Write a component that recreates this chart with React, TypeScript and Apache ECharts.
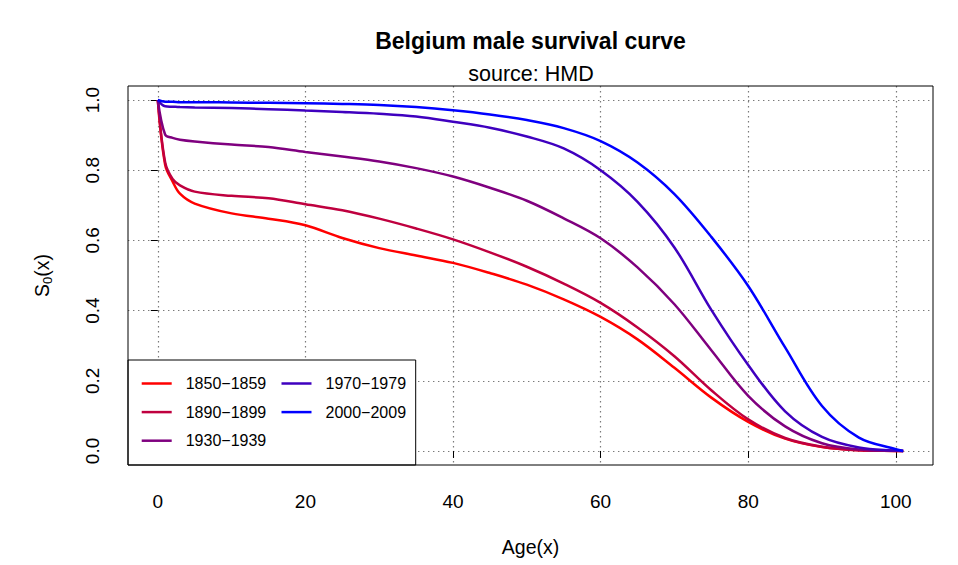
import React, { useEffect, useRef } from "react";
import * as echarts from "echarts";

// ages (years) at which the survival curves were read
const ages = [0, 1, 2, 3, 5, 10, 15, 20, 25, 30, 35, 40, 45, 50, 55, 60, 65, 70, 75, 80, 85, 90, 95, 100, 101];

const s1850 = [1, 0.815, 0.768, 0.733, 0.705, 0.677, 0.662, 0.643, 0.607, 0.578, 0.557, 0.536, 0.507, 0.474, 0.432, 0.382, 0.318, 0.237, 0.152, 0.083, 0.035, 0.011, 0.002, 0.0002, 0];
const s1890 = [1, 0.822, 0.775, 0.757, 0.739, 0.727, 0.72, 0.703, 0.686, 0.662, 0.634, 0.603, 0.566, 0.525, 0.477, 0.422, 0.352, 0.27, 0.173, 0.09, 0.037, 0.012, 0.002, 0.0002, 0];
const s1930 = [1, 0.901, 0.892, 0.887, 0.882, 0.873, 0.866, 0.852, 0.839, 0.825, 0.806, 0.782, 0.75, 0.713, 0.663, 0.606, 0.523, 0.418, 0.287, 0.157, 0.07, 0.022, 0.004, 0.0005, 0];
const s1970 = [1, 0.982, 0.981, 0.98, 0.979, 0.977, 0.974, 0.97, 0.966, 0.961, 0.953, 0.938, 0.921, 0.896, 0.862, 0.8, 0.71, 0.58, 0.402, 0.245, 0.113, 0.04, 0.01, 0.001, 0];
const s2000 = [1, 0.995, 0.995, 0.994, 0.994, 0.993, 0.992, 0.991, 0.989, 0.986, 0.98, 0.971, 0.959, 0.943, 0.92, 0.883, 0.822, 0.732, 0.61, 0.47, 0.295, 0.128, 0.038, 0.005, 0];

const periods = ["1850−1859", "1890−1899", "1930−1939", "1970−1979", "2000−2009"];
const colors = ["#FF0000", "#BF003F", "#7F007F", "#3F00BF", "#0000FF"];
const xTicks = [0, 20, 40, 60, 80, 100];
const yTicks = [0, 0.2, 0.4, 0.6, 0.8, 1];

const FONT = "Liberation Sans, Arial, sans-serif";

const App = () => {
  const chartRef = useRef(null);

  useEffect(() => {
    const chart = echarts.init(chartRef.current, null, { renderer: "svg" });
    const values = [s1850, s1890, s1930, s1970, s2000];

    const series = periods.map((name, i) => ({
      name,
      type: "line",
      data: ages.map((a, j) => [a, values[i][j]]),
      symbol: "none",
      smooth: 0.35,
      z: 2,
      lineStyle: { color: colors[i], width: 2.5 },
      itemStyle: { color: colors[i] },
    }));

    const gridLine = { show: true, lineStyle: { color: "#7a7a7a", type: [1.4, 3.6], width: 1.2 } };

    const legendBase = {
      orient: "vertical",
      top: 369.2,
      padding: 0,
      icon: "rect",
      itemWidth: 30,
      itemHeight: 2.5,
      itemGap: 0,
      z: 10,
      textStyle: { fontSize: 16, lineHeight: 28.6, color: "#000", fontFamily: FONT, padding: [0, 0, 0, 9] },
    };

    chart.setOption({
      animation: false,
      textStyle: { fontFamily: FONT },
      grid: { left: 128, right: 25, top: 86, bottom: 100 },
      xAxis: {
        type: "value",
        min: -4.04,
        max: 105.04,
        axisLine: { show: false },
        axisTick: { customValues: xTicks, length: 7, lineStyle: { color: "#000" } },
        axisLabel: { customValues: xTicks, margin: 27, fontSize: 19, color: "#000", fontFamily: FONT },
        splitLine: gridLine,
      },
      yAxis: {
        type: "value",
        min: -0.04,
        max: 1.04,
        axisLine: { show: false },
        axisTick: { customValues: yTicks, length: 7, lineStyle: { color: "#000" } },
        axisLabel: {
          customValues: yTicks,
          margin: 26,
          rotate: 90,
          fontSize: 19,
          color: "#000",
          fontFamily: FONT,
          formatter: (v: number) => v.toFixed(1),
        },
        splitLine: gridLine,
      },
      legend: [
        { ...legendBase, data: periods.slice(0, 3), left: 141.7 },
        { ...legendBase, data: periods.slice(3), left: 281.5 },
      ],
      graphic: [
        {
          type: "rect",
          z: 5,
          shape: { x: 128, y: 360, width: 287.7, height: 105 },
          style: { fill: "#fff", stroke: "#000", lineWidth: 1 },
        },
        {
          type: "rect",
          z: 6,
          shape: { x: 128, y: 86, width: 805, height: 379 },
          style: { fill: "none", stroke: "#000", lineWidth: 1 },
        },
        {
          type: "text",
          x: 530.5,
          y: 41,
          style: {
            text: "Belgium male survival curve",
            fontSize: 23,
            fontWeight: "bold",
            fontFamily: FONT,
            fill: "#000",
            textAlign: "center",
            textVerticalAlign: "middle",
          },
        },
        {
          type: "text",
          x: 531,
          y: 74,
          style: {
            text: "source: HMD",
            fontSize: 21.5,
            fontFamily: FONT,
            fill: "#000",
            textAlign: "center",
            textVerticalAlign: "middle",
          },
        },
        {
          type: "text",
          x: 530.5,
          y: 547,
          style: {
            text: "Age(x)",
            fontSize: 19.5,
            fontFamily: FONT,
            fill: "#000",
            textAlign: "center",
            textVerticalAlign: "middle",
          },
        },
        {
          type: "text",
          x: 42,
          y: 275.5,
          rotation: Math.PI / 2,
          style: {
            text: "{a|S}{b|0}{a|(x)}",
            fontFamily: FONT,
            fill: "#000",
            textAlign: "center",
            textVerticalAlign: "middle",
            rich: {
              a: { fontSize: 19.5, fontFamily: FONT, fill: "#000" },
              b: { fontSize: 13, fontFamily: FONT, fill: "#000", padding: [11, 0, 0, 0] },
            },
          },
        },
      ],
      series,
    });

    return () => chart.dispose();
  }, []);

  return (
    <div
      ref={chartRef}
      style={{ position: "absolute", left: 0, top: 0, width: "958px", height: "565px" }}
    />
  );
};

export default App;
